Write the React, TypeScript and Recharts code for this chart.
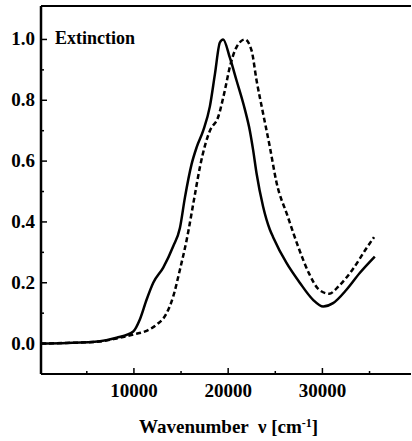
import React from "react";
import { LineChart, Line, XAxis, YAxis, ReferenceLine } from "recharts";

const solidV = [140, 2860, 6390, 8160, 9930, 10640, 11340, 12050, 13110, 14170, 14880, 15410, 16120, 16650, 17350, 18060, 18590, 19120, 19470, 20180, 20890, 21770, 22300, 22650, 23010, 23710, 24420, 24770, 26190, 27600, 29010, 30080, 31130, 32550, 33960, 35560];
const solidE = [0.0, 0.002, 0.008, 0.019, 0.04, 0.08, 0.144, 0.2, 0.25, 0.32, 0.38, 0.48, 0.59, 0.645, 0.7, 0.78, 0.885, 0.99, 1.0, 0.94, 0.865, 0.77, 0.7, 0.636, 0.56, 0.45, 0.375, 0.35, 0.265, 0.2, 0.144, 0.122, 0.133, 0.177, 0.232, 0.286];

const dashedV = [140, 2860, 6390, 8160, 9930, 11340, 12400, 13470, 14170, 14880, 15590, 16470, 17000, 17530, 18060, 18940, 19650, 20180, 20890, 21770, 22480, 23010, 23710, 24420, 25130, 26300, 27530, 28590, 29650, 30710, 31770, 33190, 34600, 35480];
const dashedE = [0.0, 0.002, 0.007, 0.017, 0.03, 0.042, 0.062, 0.1, 0.155, 0.243, 0.34, 0.49, 0.58, 0.65, 0.7, 0.745, 0.833, 0.91, 0.975, 1.0, 0.964, 0.866, 0.756, 0.647, 0.53, 0.42, 0.31, 0.23, 0.177, 0.164, 0.19, 0.243, 0.31, 0.35];

const xTicks = [5000, 10000, 15000, 20000, 25000, 30000, 35000];
const xLabeled = [10000, 20000, 30000];
const yTicks = [0, 0.1, 0.2, 0.3, 0.4, 0.5, 0.6, 0.7, 0.8, 0.9, 1.0];
const yLabeled = ["0.0", "0.2", "0.4", "0.6", "0.8", "1.0"];

const xDomain = [140, 39400];
const yDomain = [-0.1, 1.11];

const solidData = solidV.map((v, i) => ({ v, e: solidE[i] }));
const dashedData = dashedV.map((v, i) => ({ v, e: dashedE[i] }));

const FONT = "'Liberation Serif', 'Times New Roman', serif";

const XTick = (props: any) => {
  const { x, y, payload } = props;
  const major = xLabeled.includes(payload.value);
  return (
    <g>
      <line x1={x} x2={x} y1={y} y2={y - (major ? 6 : 3)} stroke="#000" strokeWidth={1.5} />
      {major && (
        <text x={x} y={y + 23} textAnchor="middle" fontFamily={FONT} fontWeight="bold" fontSize={19} fill="#000">
          {payload.value}
        </text>
      )}
    </g>
  );
};

const YTick = (props: any) => {
  const { x, y, payload } = props;
  const label = payload.value.toFixed(1);
  const major = yLabeled.includes(label);
  return (
    <g>
      <line x1={x} x2={x + (major ? 6 : 3)} y1={y} y2={y} stroke="#000" strokeWidth={1.5} />
      {major && (
        <text x={x - 6} y={y + 6} textAnchor="end" fontFamily={FONT} fontWeight="bold" fontSize={19} fill="#000">
          {label}
        </text>
      )}
    </g>
  );
};

export default function App() {
  return (
    <div style={{ position: "absolute", left: 0, top: 0, width: 412, height: 441, background: "#fff" }}>
      <LineChart width={412} height={441} margin={{ top: 6, right: 1, left: 0, bottom: 0 }}>
        <XAxis
          type="number"
          dataKey="v"
          domain={xDomain}
          ticks={xTicks}
          allowDataOverflow
          height={67}
          tickSize={0}
          tickMargin={0}
          tickLine={false}
          tick={<XTick />}
          axisLine={{ stroke: "#000", strokeWidth: 2 }}
          interval={0}
        />
        <YAxis
          type="number"
          dataKey="e"
          domain={yDomain}
          ticks={yTicks}
          allowDataOverflow
          width={41}
          tickSize={0}
          tickMargin={0}
          tickLine={false}
          tick={<YTick />}
          axisLine={{ stroke: "#000", strokeWidth: 2.5 }}
          interval={0}
        />
        <ReferenceLine y={yDomain[1]} stroke="#000" strokeWidth={2} />
        <Line data={solidData} dataKey="e" type="monotone" stroke="#000" strokeWidth={2.5} dot={false} isAnimationActive={false} />
        <Line data={dashedData} dataKey="e" type="monotone" stroke="#000" strokeWidth={2.5} strokeDasharray="5 3" dot={false} isAnimationActive={false} />
      </LineChart>
      <div style={{ position: "absolute", left: 55, top: 27, fontFamily: FONT, fontWeight: "bold", fontSize: 18, lineHeight: "22px", color: "#000", whiteSpace: "nowrap" }}>
        Extinction
      </div>
      <div style={{ position: "absolute", left: 139, top: 416, fontFamily: FONT, fontWeight: "bold", fontSize: 19, lineHeight: "22px", color: "#000", whiteSpace: "pre" }}>
        {"Wavenumber  \u03bd [cm"}<sup style={{ fontSize: 12, verticalAlign: "top", lineHeight: "14px" }}>-1</sup>{"]"}
      </div>
    </div>
  );
}
